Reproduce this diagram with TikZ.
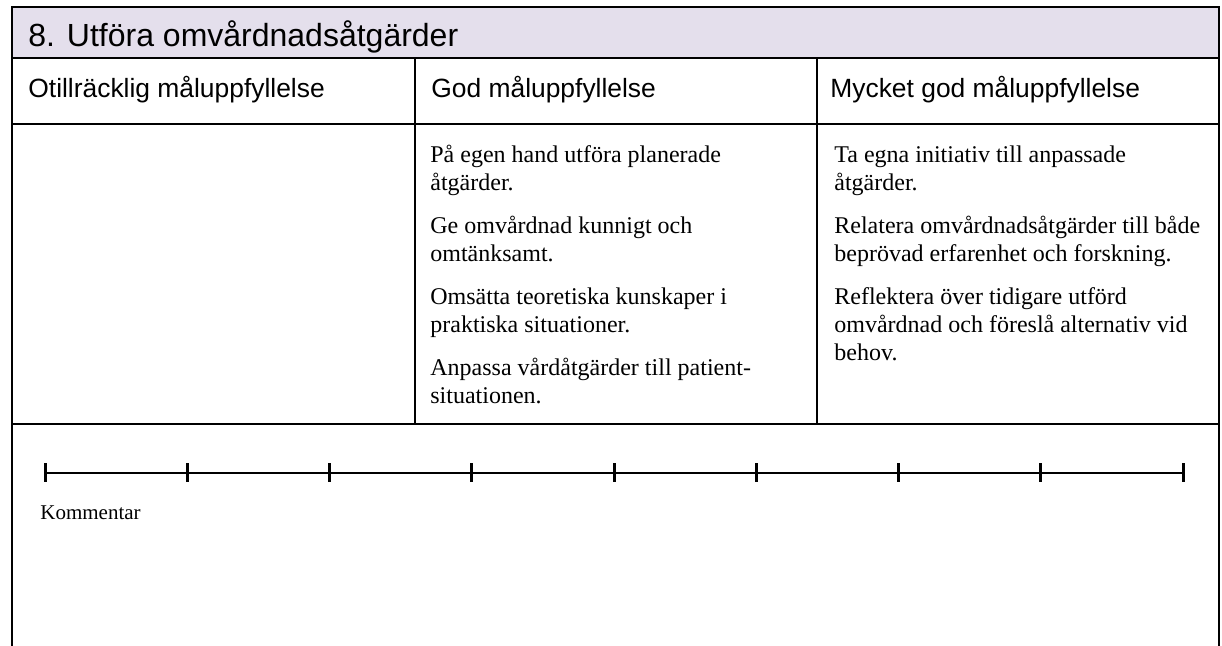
\documentclass[tikz,border=0pt]{standalone}
\usepackage{fontspec}
\setmainfont{Liberation Serif}
\setsansfont{Liberation Sans}
\definecolor{titlebg}{HTML}{E4DFEC}

\begin{document}
\begin{tikzpicture}[x=0.5pt,y=-0.5pt,
    rule/.style={line width=1pt},
    tick/.style={line width=1.5pt},
    heading/.style={font=\sffamily\fontsize{16}{19}\selectfont,anchor=base west,inner sep=0pt},
    colhead/.style={font=\sffamily\fontsize{13.2}{16}\selectfont,anchor=base west,inner sep=0pt},
    crit/.style={font=\fontsize{12}{14}\selectfont,align=left,anchor=north west,inner sep=0pt},
    remark/.style={font=\fontsize{10.5}{12}\selectfont,anchor=base west,inner sep=0pt}]
  \useasboundingbox (0,0) rectangle (1222,646);
  % title band and table rules
  \fill[titlebg] (12,7) rectangle (1219,58);
  \draw[rule] (12,646) -- (12,7) -- (1219,7) -- (1219,646);
  \draw[rule] (12,58) -- (1219,58);
  \draw[rule] (12,124) -- (1219,124);
  \draw[rule] (12,424) -- (1219,424);
  \draw[rule] (415,58) -- (415,424);
  \draw[rule] (817,58) -- (817,424);

  \node[heading] (title) at (28,47) {8. Utföra omvårdnadsåtgärder};
  \node[colhead] (low) at (28,98) {Otillräcklig måluppfyllelse};
  \node[colhead] (good) at (431,98) {God måluppfyllelse};
  \node[colhead] (vgood) at (830,98) {Mycket god måluppfyllelse};

  \node[crit] (goodtxt) at (430,145) {På egen hand utföra planerade\\ åtgärder.\\[7.5pt]
    Ge omvårdnad kunnigt och\\ omtänksamt.\\[7.5pt]
    Omsätta teoretiska kunskaper i\\ praktiska situationer.\\[7.5pt]
    Anpassa vårdåtgärder till patient-\\ situationen.};
  \node[crit] (vgoodtxt) at (834,145) {Ta egna initiativ till anpassade\\ åtgärder.\\[7.5pt]
    Relatera omvårdnadsåtgärder till både\\ beprövad erfarenhet och forskning.\\[7.5pt]
    Reflektera över tidigare utförd\\ omvårdnad och föreslå alternativ vid\\ behov.};

  % scale
  \coordinate (s0) at (45,473);
  \coordinate (s8) at (1183,473);
  \draw[rule] (s0) -- (s8);
  \foreach \i in {0,...,8}
    \draw[tick] ({45+142.25*\i},463.5) -- ++(0,19);

  \node[remark] (comment) at (40,520) {Kommentar};
\end{tikzpicture}
\end{document}
